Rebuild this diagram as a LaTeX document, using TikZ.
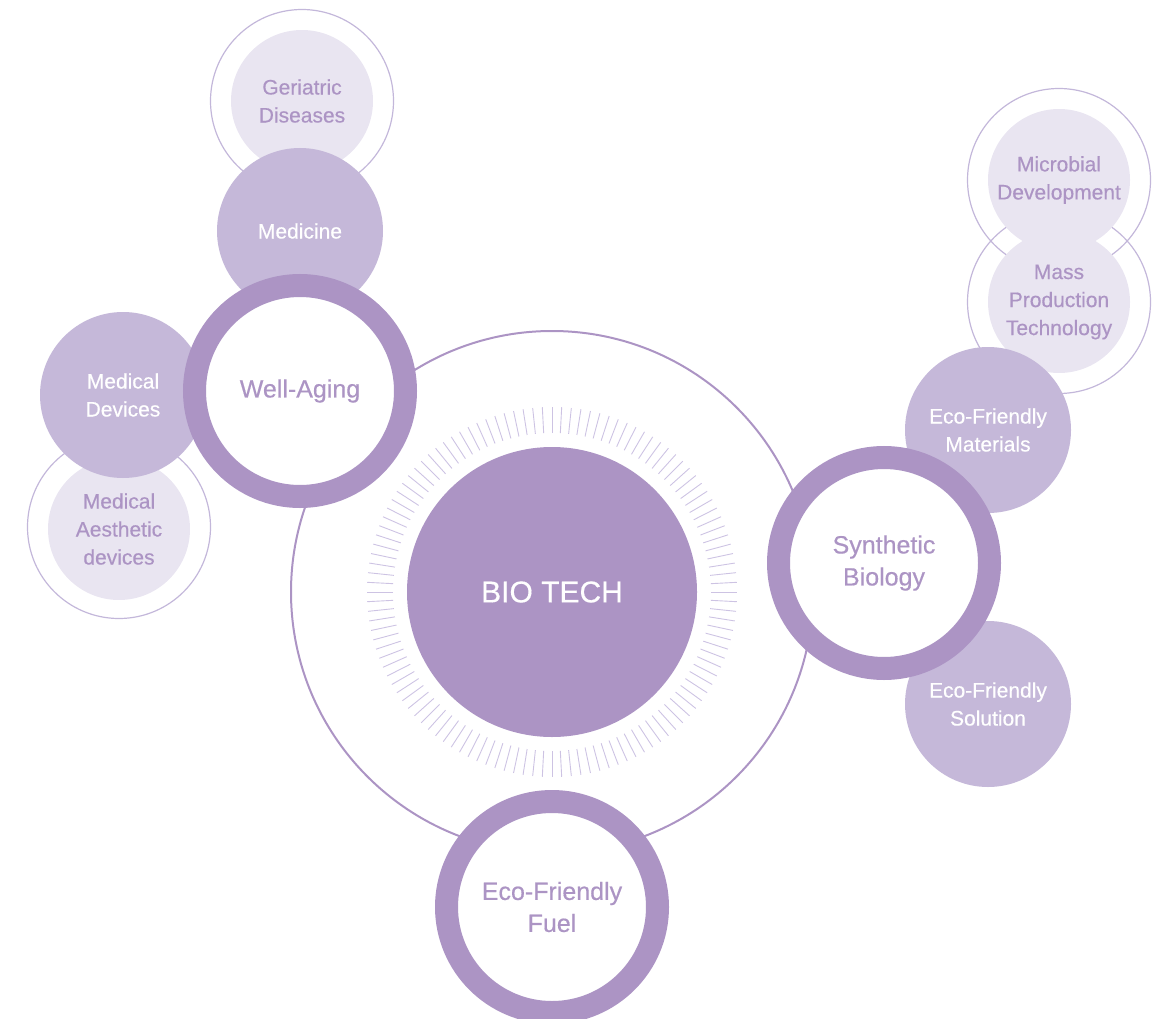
\documentclass[tikz,border=0pt]{standalone}
\usepackage{fontspec}
\setmainfont[FakeBold=0.4]{Liberation Sans}
\definecolor{ringpurple}{HTML}{AC94C4}
\definecolor{midpurple}{HTML}{C5B8D9}
\definecolor{palepurple}{HTML}{E9E5F1}
\definecolor{linepurple}{HTML}{C3B7DA}
\definecolor{tickpurple}{HTML}{CDC3E3}

\begin{document}
\begin{tikzpicture}[x=1pt,y=-1pt,
	ring/.style={circle,draw=ringpurple,line width=23pt,fill=white,minimum size=211pt,inner sep=0pt,
		text=ringpurple,align=center,font=\fontsize{25}{32}\selectfont},
	topic/.style={circle,fill=midpurple,minimum size=166pt,inner sep=0pt,
		text=white,align=center,font=\fontsize{21}{28}\selectfont},
	halo/.style={circle,draw=linepurple,line width=1.2pt,minimum size=183pt,inner sep=0pt},
	subtopic/.style={circle,fill=palepurple,minimum size=142pt,inner sep=0pt,
		text=ringpurple,align=center,font=\fontsize{21}{28}\selectfont}]

\useasboundingbox (0,0) rectangle (1164,1019);
\clip (0,0) rectangle (1164,1019);

\node[halo] (geri-halo) at (302,101) {};
\node[halo] (aest-halo) at (119,527) {};
\node[halo] (micro-halo) at (1059,180) {};
\node[halo] (mass-halo) at (1059,302) {};

\node[circle,draw=ringpurple,line width=2pt,minimum size=522pt,inner sep=0pt] (orbit) at (552,592) {};

\node[subtopic] (geri) at (302,101) {Geriatric\\Diseases};
\node[subtopic] (aest) at (119,529) {Medical\\Aesthetic\\devices};
\node[subtopic] (micro) at (1059,180) {Microbial\\Development};
\node[subtopic] (mass) at (1059,302) {Mass\\Production\\Technology};

\node[topic] (medicine) at (300,231) {Medicine};
\node[topic] (devices) at (123,395) {Medical\\Devices};
\node[topic] (materials) at (988,430) {Eco-Friendly\\Materials};
\node[topic] (solution) at (988,704) {Eco-Friendly\\Solution};

\node[ring] (aging) at (300,391) {Well-Aging};
\node[ring] (synbio) at (884,563) {Synthetic\\Biology};
\node[ring] (fuel) at (552,907) {Eco-Friendly\\Fuel};

\foreach \a in {0,3,...,357}
	\draw[tickpurple,line width=0.9pt,shift={(552,592)}] (\a:159) -- (\a:185);

\node[circle,fill=ringpurple,minimum size=290pt,inner sep=0pt,text=white,
	font=\fontsize{30}{36}\selectfont] (core) at (552,592) {BIO TECH};

\end{tikzpicture}
\end{document}
